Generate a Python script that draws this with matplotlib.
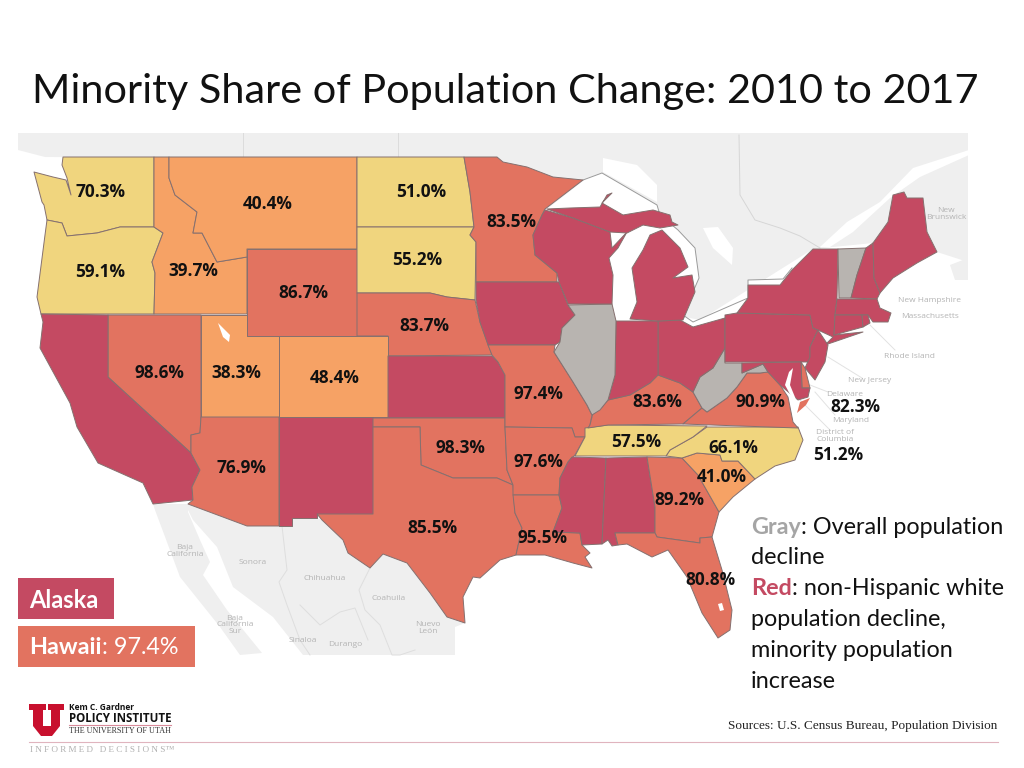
import matplotlib
matplotlib.use("Agg")
import matplotlib.pyplot as plt
from matplotlib.patches import Polygon, Rectangle

RED = "#C44A62"
SALMON = "#E27360"
ORANGE = "#F6A265"
YELLOW = "#F0D57E"
GRAY = "#B8B4B0"
LAND = "#EFEFEF"

# Share of population change, None = non-Hispanic white decline / overall decline
SHARES = {
    "WA": 70.3, "OR": 59.1, "ID": 39.7, "MT": 40.4, "ND": 51.0, "SD": 55.2,
    "WY": 86.7, "NE": 83.7, "MN": 83.5, "NV": 98.6, "UT": 38.3, "CO": 48.4,
    "MO": 97.4, "KY": 83.6, "VA": 90.9, "DE": 82.3, "OK": 98.3, "AR": 97.6,
    "TN": 57.5, "NC": 66.1, "SC": 41.0, "GA": 89.2, "LA": 95.5, "FL": 80.8,
    "AZ": 76.9, "TX": 85.5,
}
DC_SHARE = 51.2
HAWAII_SHARE = 97.4
RED_STATES = ["CA", "NM", "KS", "IA", "WI", "MI", "MI2", "IN", "OH", "PA", "NY", "NJ",
              "MD", "MS", "AL", "NH", "ME", "MA", "CT", "RI"]
GRAY_STATES = ["IL", "WV", "VT"]

OUTLINES = {
    "WA": [(63,157),(154,157),(154,227),(120,227),(97,233),(67,236),(62,223),(47,220),(44,205),(42,202),(34,172),(53,177),(66,180),(71,195),(67,178),(62,165)],
    "OR": [(47,220),(62,223),(67,236),(97,233),(120,227),(154,227),(163,233),(152,262),(155,273),(154,314),(41,314),(37,297),(45,235)],
    "ID": [(154,157),(169,157),(169,178),(175,195),(197,212),(193,233),(202,233),(217,262),(247,257),(247,314),(154,314),(155,273),(152,262),(163,233),(154,227)],
    "MT": [(169,157),(357,157),(357,249),(247,249),(247,257),(217,262),(202,233),(193,233),(197,212),(175,195),(169,178)],
    "WY": [(247,249),(357,249),(357,336),(247,336)],
    "ND": [(357,157),(464,157),(470,192),(474,227),(357,227)],
    "SD": [(357,227),(474,227),(470,235),(476,242),(475,300),(447,297),(430,293),(357,293)],
    "NE": [(357,293),(430,293),(447,297),(475,300),(480,322),(492,355),(388,356),(388,336),(357,336)],
    "NV": [(108,315),(201,315),(201,417),(200,433),(191,435),(191,453),(108,377)],
    "UT": [(201,315),(247,315),(247,336),(279,336),(279,417),(201,417)],
    "CO": [(279,336),(388,336),(388,417),(279,417)],
    "KS": [(388,356),(492,356),(498,362),(505,375),(505,418),(388,418)],
    "CA": [(41,314),(108,315),(108,377),(191,453),(200,470),(192,487),(193,500),(153,504),(143,483),(98,463),(77,427),(70,403),(40,348),(43,322)],
    "AZ": [(201,417),(279,417),(279,526),(247,526),(188,504),(193,500),(192,487),(200,470),(191,453),(191,435),(200,433)],
    "NM": [(279,417),(373,417),(373,514),(317,514),(317,518),(292,518),(292,526),(279,526)],
    "OK": [(373,418),(505,418),(505,427),(507,470),(513,485),(497,478),(453,478),(421,465),(420,427),(373,427)],
    "TX": [(373,427),(420,427),(421,465),(453,478),(497,478),(513,485),(515,513),(522,528),(516,555),(500,560),(480,578),(473,577),(463,597),(465,623),(447,617),(430,593),(407,563),(383,554),(370,568),(348,553),(343,540),(322,520),(317,514),(373,514)],
    "MN": [(464,157),(497,157),(503,162),(527,167),(553,177),(583,180),(545,209),(542,215),(533,235),(535,255),(557,273),(557,282),(476,282),(476,242),(470,235),(474,227),(470,192)],
    "IA": [(476,282),(559,282),(568,305),(575,315),(562,328),(560,342),(555,345),(488,345),(480,322),(476,300)],
    "MO": [(488,345),(555,345),(554,352),(573,382),(587,405),(592,415),(590,425),(585,437),(575,437),(572,428),(505,427),(505,375),(498,362),(492,355)],
    "AR": [(505,427),(572,428),(575,437),(585,437),(575,455),(568,462),(560,478),(559,495),(513,495),(513,485),(507,470)],
    "LA": [(513,495),(559,495),(562,508),(553,532),(580,533),(582,545),(590,553),(585,557),(592,568),(573,563),(545,555),(516,555),(522,528),(515,513)],
    "MS": [(572,457),(606,458),(602,544),(582,545),(580,533),(553,532),(562,508),(559,495),(560,478),(568,462)],
    "AL": [(606,458),(647,457),(655,507),(655,533),(615,533),(618,545),(612,546),(608,540),(602,544)],
    "GA": [(647,457),(682,458),(698,475),(719,512),(712,537),(700,538),(700,543),(657,537),(655,533),(655,507)],
    "FL": [(615,533),(655,533),(657,537),(700,543),(700,538),(712,537),(722,570),(732,610),(730,630),(718,638),(702,613),(687,577),(668,550),(652,557),(627,544),(618,545)],
    "SC": [(682,458),(697,453),(720,455),(722,461),(738,461),(755,479),(733,497),(719,512),(698,475)],
    "NC": [(707,427),(798,427),(803,440),(795,460),(775,466),(755,479),(738,461),(722,461),(720,455),(697,453),(682,458),(666,456),(670,450),(693,437)],
    "TN": [(585,428),(608,425),(707,426),(693,437),(670,450),(666,456),(575,456),(585,437)],
    "KY": [(590,425),(593,413),(602,407),(608,400),(630,395),(650,383),(658,375),(680,383),(693,392),(702,408),(683,424),(608,425),(588,428)],
    "VA": [(683,424),(702,408),(707,412),(727,398),(737,387),(747,373),(760,373),(768,372),(780,385),(788,397),(793,422),(798,428)],
    "WV": [(725,348),(725,363),(742,363),(742,373),(763,364),(768,372),(760,373),(747,373),(737,387),(727,398),(707,412),(702,408),(693,392),(700,377),(713,368)],
    "OH": [(658,321),(680,320),(693,327),(725,318),(725,348),(713,368),(700,377),(693,392),(680,383),(658,375)],
    "IN": [(616,321),(658,321),(658,375),(650,383),(630,395),(608,400),(615,375)],
    "IL": [(568,305),(612,304),(616,321),(615,375),(608,400),(600,410),(592,415),(587,405),(573,382),(554,352),(560,342),(562,328),(575,315)],
    "WI": [(545,210),(573,218),(610,232),(612,248),(627,232),(618,248),(609,258),(613,275),(612,304),(568,304),(559,282),(557,273),(535,255),(533,235),(542,215)],
    "MI": [(547,209),(570,208),(600,207),(607,195),(612,193),(602,203),(623,215),(653,210),(670,215),(672,222),(678,225),(660,228),(643,225),(627,233),(610,232),(573,218)],
    "MI2": [(630,319),(637,302),(632,268),(643,250),(650,235),(662,230),(680,248),(688,267),(673,278),(692,275),(695,292),(683,320),(658,321)],
    "PA": [(725,315),(737,313),(810,315),(813,328),(818,330),(810,347),(810,362),(725,362)],
    "NY": [(737,313),(748,298),(748,285),(780,285),(792,270),(813,249),(838,249),(837,298),(835,315),(834,335),(863,332),(825,345),(833,337),(818,330),(813,328),(810,315)],
    "VT": [(838,249),(866,248),(857,275),(851,298),(839,298)],
    "NH": [(866,248),(873,243),(874,278),(880,293),(877,299),(851,298),(857,275)],
    "ME": [(873,243),(888,222),(893,195),(904,192),(907,198),(923,198),(927,232),(937,252),(917,263),(893,278),(880,293),(874,278)],
    "MA": [(837,299),(877,299),(880,308),(891,313),(888,322),(873,322),(868,315),(835,315)],
    "CT": [(835,315),(862,315),(863,327),(834,335)],
    "RI": [(862,315),(868,315),(870,323),(863,327)],
    "NJ": [(818,330),(828,345),(825,362),(815,380),(805,368),(810,357),(810,347)],
    "DE": [(801,362),(805,368),(810,388),(802,388)],
    "MD": [(742,363),(801,362),(802,388),(810,388),(808,397),(798,400),(780,385),(768,372),(763,364),(742,373)],
}
VA_SHORE = [(810,398),(806,405),(797,413),(800,402)]

LABEL_POS = {
    "WA": (100,192), "OR": (100,272), "ID": (193,271), "MT": (268,204), "ND": (421,192),
    "SD": (417,260), "WY": (303,293), "NE": (424,326), "MN": (511,222), "NV": (159,373),
    "UT": (236,373), "CO": (335,378), "MO": (538,394), "KY": (657,402), "VA": (760,402),
    "DE": (855,407), "OK": (460,448), "AR": (538,462), "TN": (636,442), "NC": (733,448),
    "SC": (722,477), "GA": (679,500), "LA": (542,538), "FL": (710,580), "AZ": (241,468),
    "TX": (432,528),
}

# Faint basemap place names
PLACE_NAMES = [
    ("New\nBrunswick", 946, 214), ("New Hampshire", 929, 300), ("Massachusetts", 930, 316),
    ("Rhode Island", 909, 356), ("New Jersey", 870, 381), ("Delaware", 845, 395),
    ("Maryland", 851, 420), ("District of\nColumbia", 835, 436), ("Baja\nCalifornia", 185, 551),
    ("Sonora", 253, 563), ("Chihuahua", 325, 578), ("Coahuila", 389, 599),
    ("Nuevo\nLeón", 428, 628), ("Baja\nCalifornia\nSur", 235, 625), ("Sinaloa", 303, 640),
    ("Durango", 345, 644),
]

SIDE_LINES = [
    ("Gray", ": Overall population", 526),
    ("", "decline", 556),
    ("Red", ": non-Hispanic white", 587),
    ("", "population decline,", 618),
    ("", "minority population", 649),
    ("", "increase", 680),
]


def share_color(value):
    if value >= 75:
        return SALMON
    if value >= 50:
        return YELLOW
    return ORANGE


def state_color(name):
    if name in GRAY_STATES:
        return GRAY
    if name in RED_STATES:
        return RED
    return share_color(SHARES[name])


def land(ax, pts, color=LAND, z=1):
    ax.add_patch(Polygon(pts, closed=True, fc=color, ec="none", zorder=z))


fig = plt.figure(figsize=(10.24, 7.68), dpi=100, facecolor="white")
ax = fig.add_axes([0, 0, 1, 1])
ax.set_xlim(0, 1024)
ax.set_ylim(768, 0)
ax.axis("off")

ax.text(32, 91, "Minority Share of Population Change: 2010 to 2017", fontsize=29.8,
        family="Lato", color="#111111", va="center", ha="left")

# Canada, with the water in front of it
land(ax, [(18,133),(968,133),(968,262),(937,252),(873,243),(813,249),(700,320),(600,300),(500,160),(45,157),(18,150)])
land(ax, [(950,265),(968,258),(968,280),(955,280)])
land(ax, [(820,247),(847,222),(880,202),(913,168),(969,150),(969,155),(920,177),(890,198),(853,232),(830,247)], "white", 2)
land(ax, [(547,209),(587,178),(602,173),(657,205),(660,215),(678,230),(695,248),(699,278),(683,315),(693,322),(747,298),(748,280),(783,279),(792,268),(813,249),(813,300),(693,332),(630,330),(600,300),(600,240)], "white", 2)
land(ax, [(603,158),(637,165),(657,185),(657,202),(603,172)], "white", 2)
land(ax, [(703,228),(718,227),(733,248),(732,265),(713,248)], "white", 2)
ax.plot([583,602,657,660,678,695,699,683,693,748,748,783,792], [180,173,205,215,230,248,278,315,322,298,280,279,268],
        color="#9A9A9A", lw=0.7, zorder=3)
ax.plot([739,740,755,780,800,820], [135,195,220,228,236,248], color="#D6D6D6", lw=0.7, zorder=3)
ax.plot([243,243], [133,157], color="#DCDCDC", lw=0.7, zorder=3)
ax.plot([398,398], [133,157], color="#DCDCDC", lw=0.7, zorder=3)

# Mexico
land(ax, [(188,504),(247,526),(292,526),(292,518),(317,518),(322,520),(343,540),(348,553),(370,568),(383,554),(407,563),(430,593),(447,617),(465,623),(455,627),(455,655),(303,655),(273,617),(233,587),(217,547),(193,520),(188,510)])
land(ax, [(153,504),(188,504),(188,512),(200,540),(210,562),(203,575),(227,610),(262,653),(240,655),(220,627),(180,577),(155,510)])
for xs, ys in [([282,287,279,287,300,310], [526,570,582,605,640,655]),
               ([370,359,365,380,392,400,415], [568,590,610,625,655,655,650]),
               ([300,320,340,355,368], [605,625,612,608,640])]:
    ax.plot(xs, ys, color="#DEDEDE", lw=0.7, zorder=2)

for name, pts in OUTLINES.items():
    ax.add_patch(Polygon(pts, closed=True, fc=state_color(name), ec="#85706F", lw=0.7,
                         joinstyle="round", zorder=4))
ax.add_patch(Polygon(VA_SHORE, closed=True, fc=SALMON, ec="none", zorder=4))

# Salt Lake, Chesapeake Bay, Okeechobee
land(ax, [(218,323),(224,329),(230,335),(229,342),(223,337)], "white", 5)
land(ax, [(789,372),(793,368),(790,385),(797,402),(792,398),(785,385)], "white", 5)
land(ax, [(718,604),(722,603),(724,610),(720,611)], "white", 5)

for x0, y0, x1, y1 in [(870,325,895,350), (828,357,862,378), (810,385,828,392), (815,392,835,415), (800,400,830,430)]:
    ax.plot([x0,x1], [y0,y1], color="#E2E2E2", lw=0.7, zorder=3)

for name, x, y in PLACE_NAMES:
    ax.text(x, y, name, fontsize=6, family="Open Sans", color="#B4B4B4", ha="center", va="center",
            linespacing=0.95, zorder=6)

for name, value in SHARES.items():
    x, y = LABEL_POS[name]
    ax.text(x, y, f"{value:.1f}%", fontsize=12.4, family="Open Sans", weight="bold", color="#111111",
            ha="center", va="center", zorder=7)
ax.text(838, 455, f"{DC_SHARE:.1f}%", fontsize=12.4, family="Open Sans", weight="bold", color="#111111",
        ha="center", va="center", zorder=7)

# Alaska and Hawaii boxes
ax.add_patch(Rectangle((18,578), 96, 41, fc=RED, ec="none", zorder=5))
ax.add_patch(Rectangle((18,626), 177, 41, fc=SALMON, ec="none", zorder=5))
ax.text(29, 600, "Alaska", fontsize=17, family="Lato", weight="bold", color="white", va="center", zorder=6)
hawaii = ax.text(29, 648, "Hawaii", fontsize=16.8, family="Lato", weight="bold", color="white", va="center", zorder=6)
renderer = fig.canvas.get_renderer()
hx = hawaii.get_window_extent(renderer).x1
ax.text(hx, 648, f": {HAWAII_SHARE}%", fontsize=16.8, family="Lato", color="white", va="center", zorder=6)

# Side note
for head, rest, y in SIDE_LINES:
    x = 751
    if head:
        color = "#A5A5A5" if head == "Gray" else RED
        t = ax.text(x, y + 1.5, head, fontsize=16.8, family="Lato", weight="bold", color=color, va="center", zorder=6)
        x = t.get_window_extent(renderer).x1
    ax.text(x, y + 1.5, rest, fontsize=16.8, family="Lato", color="#111111", va="center", zorder=6)

ax.text(997, 726, "Sources: U.S. Census Bureau, Population Division", fontsize=9.5,
        family="Liberation Serif", color="#222222", ha="right", va="center")

# Footer logo
land(ax, [(29,704),(46,704),(46,710),(43,710),(43,726),(51,726),(51,710),(48,710),(48,704),(64,704),(64,710),(60,710),(60,726),(52,736),(41,736),(33,726),(33,710),(29,710)], "#C8102E", 5)
ax.text(69, 707, "Kem C. Gardner", fontsize=6, family="Open Sans", weight="bold", color="#111111", va="center")
ax.text(69, 718, "POLICY INSTITUTE", fontsize=8.3, family="Open Sans", weight="bold", color="#111111", va="center")
ax.plot([69,171], [725,725], color="#D98A9A", lw=0.8)
ax.text(69, 731, "THE UNIVERSITY OF UTAH", fontsize=5.9, family="Liberation Serif", color="#333333", va="center")
ax.plot([29,998], [742,742], color="#E0B4BE", lw=0.8)
ax.text(30, 750, "I N F O R M E D   D E C I S I O N S™", fontsize=6.6, family="Liberation Serif", color="#B0B0B0", va="center")

fig.savefig("out.png", dpi=100)
